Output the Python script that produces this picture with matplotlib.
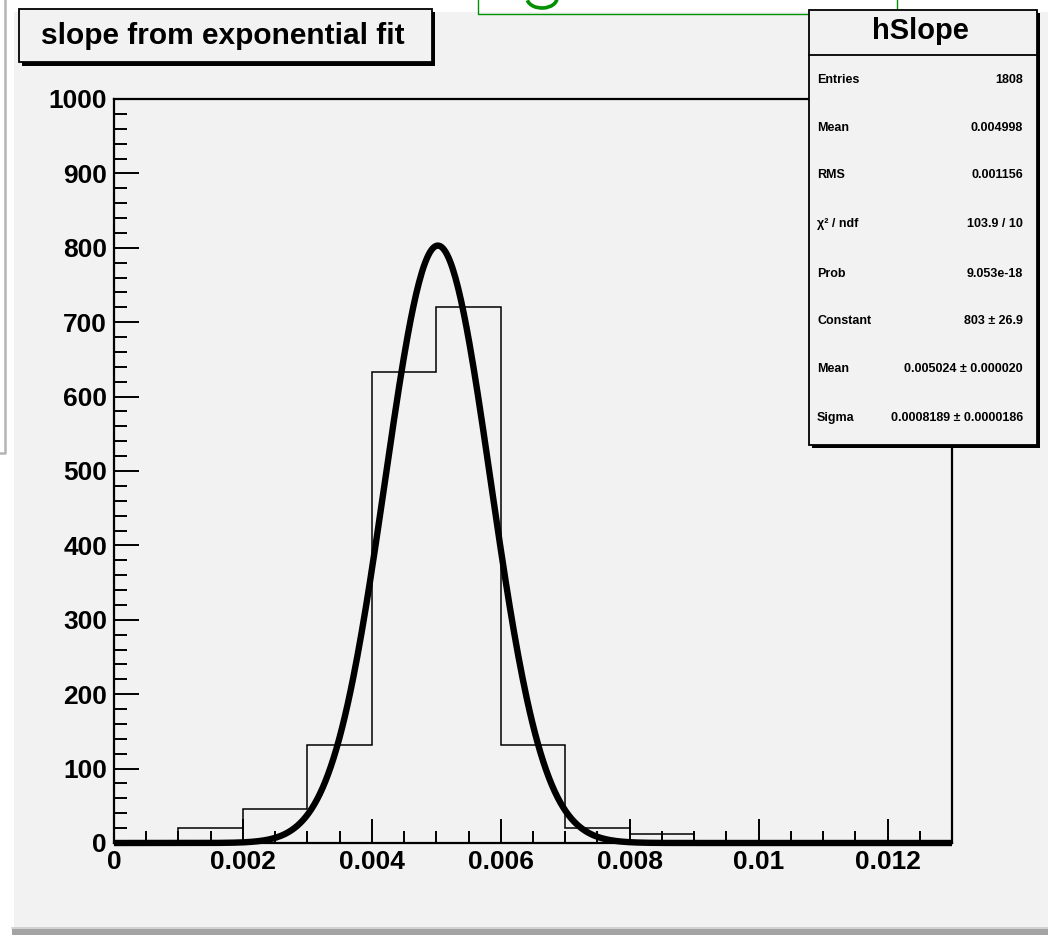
import numpy as np
import matplotlib
matplotlib.use('Agg')
import matplotlib.pyplot as plt
from matplotlib.patches import Rectangle, Arc
from matplotlib.lines import Line2D

# histogram hSlope (bin width 0.001, 0 .. 0.013)
bin_edges = [0.000, 0.001, 0.002, 0.003, 0.004, 0.005, 0.006, 0.007,
             0.008, 0.009, 0.010, 0.011, 0.012, 0.013]
counts = [0, 20, 46, 132, 633, 721, 132, 20, 12, 0, 0, 0, 0]

# gaussian fit parameters
fit_const = 803
fit_mean = 0.005024
fit_sigma = 0.0008189

stat_labels = ['Entries', 'Mean', 'RMS', 'χ² / ndf', 'Prob', 'Constant', 'Mean', 'Sigma']
stat_values = ['1808', '0.004998', '0.001156', '103.9 / 10', '9.053e-18',
               '803 ± 26.9', '0.005024 ± 0.000020', '0.0008189 ± 0.0000186']
stat_rows_y = [80, 128, 175, 224, 274, 321, 369, 418]

x_ticks = [0, 0.002, 0.004, 0.006, 0.008, 0.010, 0.012]
x_ticklabels = ['0', '0.002', '0.004', '0.006', '0.008', '0.01', '0.012']
y_ticks = list(range(0, 1001, 100))

W, H = 1048, 935
BG = '#f2f2f2'
SANS = ['Liberation Sans', 'DejaVu Sans']


def fx(x):
    return x / W


def fy(y):
    return 1 - y / H


def box(fig, x0, y0, x1, y1, **kw):
    fig.patches.append(Rectangle((fx(x0), fy(y1)), fx(x1 - x0), (y1 - y0) / H,
                                 transform=fig.transFigure, **kw))


def line(fig, xs, ys, **kw):
    fig.lines.append(Line2D([fx(v) for v in xs], [fy(v) for v in ys],
                            transform=fig.transFigure, **kw))


fig = plt.figure(figsize=(W / 100, H / 100), dpi=100, facecolor='white')

# canvas background (behind the axes)
box(fig, 14, 12, W, 929, facecolor=BG, edgecolor='none', zorder=-5)
box(fig, 12, 929, W, H, facecolor='#a4a4a4', edgecolor='none', zorder=-5)
line(fig, [12, W], [928, 928], color='#cccccc', lw=1.2, zorder=-4)
line(fig, [5, 5, 0], [0, 453, 453], color='#b4b4b4', lw=1.8, zorder=-4)

# green box at the very top, only the bottom of a glyph shows
line(fig, [478, 478, 897, 897], [0, 14, 14, 0], color='#009000', lw=1.0, zorder=5)
fig.patches.append(Arc((fx(542), fy(-2)), fx(30), 20 / H, theta1=190, theta2=360,
                       transform=fig.transFigure, color='#009000', lw=2.6, zorder=5))

ax = fig.add_axes([fx(114), fy(843), fx(952 - 114), (843 - 99) / H])
ax.set_facecolor('none')
ax.set_zorder(1)

ax.stairs(counts, bin_edges, color='black', lw=1.1, baseline=0)
xs = np.linspace(0, 0.013, 600)
ax.plot(xs, fit_const * np.exp(-0.5 * ((xs - fit_mean) / fit_sigma) ** 2),
        color='black', lw=4.6, solid_capstyle='butt', clip_on=False)

ax.set_xlim(0, 0.013)
ax.set_ylim(0, 1000)
ax.set_xticks(x_ticks)
ax.set_xticklabels(x_ticklabels)
ax.set_xticks(np.arange(0, 0.01301, 0.0005), minor=True)
ax.set_yticks(y_ticks)
ax.set_yticks(range(0, 1001, 20), minor=True)
ax.tick_params(which='major', direction='in', length=17, width=1.4, color='black')
ax.tick_params(which='minor', direction='in', length=9, width=1.4, color='black')
ax.tick_params(axis='y', which='major', length=18)
ax.tick_params(axis='both', pad=5)
for lab in ax.get_xticklabels() + ax.get_yticklabels():
    lab.set_family(SANS)
    lab.set_fontweight('bold')
    lab.set_fontsize(19)
for sp in ax.spines.values():
    sp.set_linewidth(1.6)

# title box
box(fig, 22, 12, 435, 66, facecolor='black', edgecolor='none', zorder=6)
box(fig, 19, 9, 432, 62, facecolor=BG, edgecolor='black', lw=1.3, zorder=7)
fig.text(fx(223), fy(36), 'slope from exponential fit', ha='center', va='center',
         fontsize=21.5, fontweight='bold', family=SANS, zorder=8)

# stats box
box(fig, 812, 13, 1040, 448, facecolor='black', edgecolor='none', zorder=6)
box(fig, 809, 10, 1037, 445, facecolor=BG, edgecolor='black', lw=1.3, zorder=7)
line(fig, [809, 1037], [55, 55], color='black', lw=1.3, zorder=8)
fig.text(fx(920), fy(31), 'hSlope', ha='center', va='center', fontsize=21,
         fontweight='bold', family=SANS, zorder=8)
for lab, val, yy in zip(stat_labels, stat_values, stat_rows_y):
    fig.text(fx(817), fy(yy), lab, ha='left', va='center', fontsize=9,
             fontweight='bold', family=SANS, zorder=8)
    fig.text(fx(1023), fy(yy), val, ha='right', va='center', fontsize=9,
             fontweight='bold', family=SANS, zorder=8)

fig.savefig('out.png', dpi=100, facecolor=fig.get_facecolor())
